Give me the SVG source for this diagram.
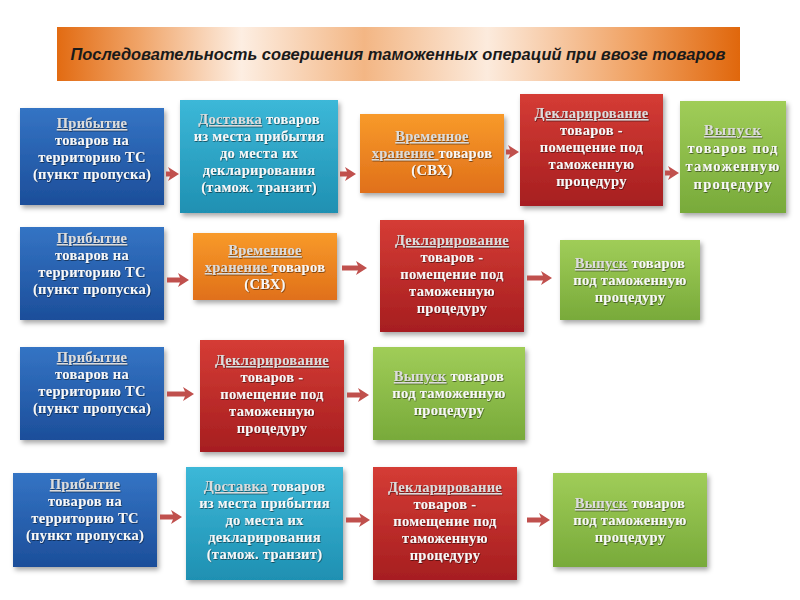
<svg xmlns="http://www.w3.org/2000/svg" width="800" height="600" viewBox="0 0 800 600">
<defs>
<linearGradient id="gTitle" x1="0" y1="0" x2="1" y2="0">
<stop offset="0" stop-color="#e26b12"/>
<stop offset="0.12" stop-color="#f0a468"/>
<stop offset="0.27" stop-color="#fdeee2"/>
<stop offset="0.45" stop-color="#f3b684"/>
<stop offset="0.63" stop-color="#fcebdd"/>
<stop offset="0.85" stop-color="#f0a060"/>
<stop offset="1" stop-color="#e0670c"/>
</linearGradient>
<linearGradient id="gBlue" x1="0" y1="0" x2="0" y2="1">
<stop offset="0" stop-color="#3474c4"/>
<stop offset="1" stop-color="#1c4e9a"/>
</linearGradient>
<linearGradient id="gTeal" x1="0" y1="0" x2="0" y2="1">
<stop offset="0" stop-color="#3cb8d8"/>
<stop offset="1" stop-color="#1f90b2"/>
</linearGradient>
<linearGradient id="gOrange" x1="0" y1="0" x2="0" y2="1">
<stop offset="0" stop-color="#f89a2a"/>
<stop offset="1" stop-color="#e0701a"/>
</linearGradient>
<linearGradient id="gRed" x1="0" y1="0" x2="0" y2="1">
<stop offset="0" stop-color="#d53c35"/>
<stop offset="1" stop-color="#a61e20"/>
</linearGradient>
<linearGradient id="gGreen" x1="0" y1="0" x2="0" y2="1">
<stop offset="0" stop-color="#a0cd58"/>
<stop offset="1" stop-color="#78aa3a"/>
</linearGradient>
<filter id="sh" x="-10%" y="-10%" width="125%" height="125%">
<feDropShadow dx="2" dy="3" stdDeviation="2.5" flood-color="#000" flood-opacity="0.35"/>
</filter>
<filter id="tsh" x="-5%" y="-20%" width="110%" height="150%">
<feDropShadow dx="0.6" dy="0.8" stdDeviation="0.6" flood-color="#000" flood-opacity="0.6"/>
</filter>
<marker id="ah" markerUnits="userSpaceOnUse" markerWidth="11" markerHeight="14" refX="3" refY="7" orient="auto">
<path d="M0,0 L11,7 L0,14 L3,7 z" fill="#c0504d"/>
</marker>
</defs>
<style>
.box{stroke:none;filter:url(#sh)}
.blue{fill:url(#gBlue)}
.teal{fill:url(#gTeal)}
.orange{fill:url(#gOrange)}
.red{fill:url(#gRed)}
.green{fill:url(#gGreen)}
.t{font-family:"Liberation Serif","DejaVu Serif",serif;font-weight:bold;font-size:14.5px;fill:#f7f7f7;text-anchor:middle;letter-spacing:0.3px;filter:url(#tsh)}
.wide{letter-spacing:1.2px}
.u{text-decoration:underline;fill:#dcdcdc}
.conn line{stroke:#c0504d;stroke-width:5;marker-end:url(#ah)}
.title{font-family:"Liberation Sans","Arial",sans-serif;font-style:italic;font-weight:bold;font-size:17px;fill:#1a1a1a;text-anchor:middle}
</style>

<g id="title">
<rect x="57" y="27" width="683" height="54" fill="url(#gTitle)"/>
<text class="title" x="398" y="60" textLength="655" lengthAdjust="spacingAndGlyphs">Последовательность совершения таможенных операций при  ввозе товаров</text>
</g>

<!-- Row 1 -->
<g id="r1-arrival">
<rect class="box blue" x="20" y="108" width="144" height="97"/>
<text class="t" x="92" y="128"><tspan class="u">Прибытие</tspan><tspan x="92" dy="17">товаров на</tspan><tspan x="92" dy="17">территорию ТС</tspan><tspan x="92" dy="17">(пункт пропуска)</tspan></text>
</g>
<g id="r1-delivery">
<rect class="box teal" x="180" y="100" width="158" height="113"/>
<text class="t" x="259" y="124"><tspan class="u">Доставка</tspan> товаров<tspan x="259" dy="17">из места прибытия</tspan><tspan x="259" dy="17">до места их</tspan><tspan x="259" dy="17">декларирования</tspan><tspan x="259" dy="17">(тамож.  транзит)</tspan></text>
</g>
<g id="r1-storage">
<rect class="box orange" x="360" y="114" width="144" height="79"/>
<text class="t" x="432" y="141"><tspan class="u">Временное</tspan><tspan x="432" dy="17"><tspan class="u">хранение </tspan>товаров</tspan><tspan x="432" dy="17">(СВХ)</tspan></text>
</g>
<g id="r1-declaration">
<rect class="box red" x="520" y="94" width="143" height="112"/>
<text class="t" x="591.5" y="118"><tspan class="u">Декларирование</tspan><tspan x="591.5" dy="17">товаров -</tspan><tspan x="591.5" dy="17">помещение под</tspan><tspan x="591.5" dy="17">таможенную</tspan><tspan x="591.5" dy="17">процедуру</tspan></text>
</g>
<g id="r1-release">
<rect class="box green" x="680" y="101" width="106" height="112"/>
<text class="t wide" x="733" y="135"><tspan class="u">Выпуск</tspan><tspan x="733" dy="18">товаров под</tspan><tspan x="733" dy="18">таможенную</tspan><tspan x="733" dy="18">процедуру</tspan></text>
</g>

<!-- Row 2 -->
<g id="r2-arrival">
<rect class="box blue" x="20" y="227" width="144" height="93"/>
<text class="t" x="92" y="243"><tspan class="u">Прибытие</tspan><tspan x="92" dy="17">товаров на</tspan><tspan x="92" dy="17">территорию ТС</tspan><tspan x="92" dy="17">(пункт пропуска)</tspan></text>
</g>
<g id="r2-storage">
<rect class="box orange" x="193" y="233" width="144" height="67"/>
<text class="t" x="265" y="255"><tspan class="u">Временное</tspan><tspan x="265" dy="17"><tspan class="u">хранение </tspan>товаров</tspan><tspan x="265" dy="17">(СВХ)</tspan></text>
</g>
<g id="r2-declaration">
<rect class="box red" x="380" y="220" width="144" height="112"/>
<text class="t" x="452" y="245"><tspan class="u">Декларирование</tspan><tspan x="452" dy="17">товаров -</tspan><tspan x="452" dy="17">помещение под</tspan><tspan x="452" dy="17">таможенную</tspan><tspan x="452" dy="17">процедуру</tspan></text>
</g>
<g id="r2-release">
<rect class="box green" x="560" y="240" width="140" height="80"/>
<text class="t" x="630" y="268"><tspan class="u">Выпуск</tspan> товаров<tspan x="630" dy="17">под таможенную</tspan><tspan x="630" dy="17">процедуру</tspan></text>
</g>

<!-- Row 3 -->
<g id="r3-arrival">
<rect class="box blue" x="20" y="347" width="144" height="93"/>
<text class="t" x="92" y="362"><tspan class="u">Прибытие</tspan><tspan x="92" dy="17">товаров на</tspan><tspan x="92" dy="17">территорию ТС</tspan><tspan x="92" dy="17">(пункт пропуска)</tspan></text>
</g>
<g id="r3-declaration">
<rect class="box red" x="200" y="340" width="144" height="112"/>
<text class="t" x="272" y="365"><tspan class="u">Декларирование</tspan><tspan x="272" dy="17">товаров -</tspan><tspan x="272" dy="17">помещение под</tspan><tspan x="272" dy="17">таможенную</tspan><tspan x="272" dy="17">процедуру</tspan></text>
</g>
<g id="r3-release">
<rect class="box green" x="373" y="347" width="152" height="93"/>
<text class="t" x="449" y="381"><tspan class="u">Выпуск</tspan> товаров<tspan x="449" dy="17">под таможенную</tspan><tspan x="449" dy="17">процедуру</tspan></text>
</g>

<!-- Row 4 -->
<g id="r4-arrival">
<rect class="box blue" x="13" y="473" width="144" height="94"/>
<text class="t" x="85" y="489"><tspan class="u">Прибытие</tspan><tspan x="85" dy="17">товаров на</tspan><tspan x="85" dy="17">территорию ТС</tspan><tspan x="85" dy="17">(пункт пропуска)</tspan></text>
</g>
<g id="r4-delivery">
<rect class="box teal" x="186" y="467" width="157" height="113"/>
<text class="t" x="264.5" y="491"><tspan class="u">Доставка</tspan> товаров<tspan x="264.5" dy="17">из места прибытия</tspan><tspan x="264.5" dy="17">до места их</tspan><tspan x="264.5" dy="17">декларирования</tspan><tspan x="264.5" dy="17">(тамож.  транзит)</tspan></text>
</g>
<g id="r4-declaration">
<rect class="box red" x="373" y="467" width="144" height="113"/>
<text class="t" x="445" y="492"><tspan class="u">Декларирование</tspan><tspan x="445" dy="17">товаров -</tspan><tspan x="445" dy="17">помещение под</tspan><tspan x="445" dy="17">таможенную</tspan><tspan x="445" dy="17">процедуру</tspan></text>
</g>
<g id="r4-release">
<rect class="box green" x="553" y="473" width="154" height="94"/>
<text class="t" x="630" y="508"><tspan class="u">Выпуск</tspan> товаров<tspan x="630" dy="17">под таможенную</tspan><tspan x="630" dy="17">процедуру</tspan></text>
</g>

<g id="connectors" class="conn">
<line x1="166" y1="174" x2="171" y2="174"/>
<line x1="340" y1="174" x2="348" y2="174"/>
<line x1="506" y1="152" x2="511" y2="152"/>
<line x1="665" y1="173" x2="671" y2="173"/>
<line x1="167" y1="280" x2="181" y2="280"/>
<line x1="342" y1="268" x2="359" y2="268"/>
<line x1="527" y1="278" x2="544" y2="278"/>
<line x1="167" y1="394" x2="186" y2="394"/>
<line x1="347" y1="395" x2="361" y2="395"/>
<line x1="160" y1="517" x2="174" y2="517"/>
<line x1="346" y1="520" x2="362" y2="520"/>
<line x1="527" y1="520" x2="542" y2="520"/>
</g>
</svg>
